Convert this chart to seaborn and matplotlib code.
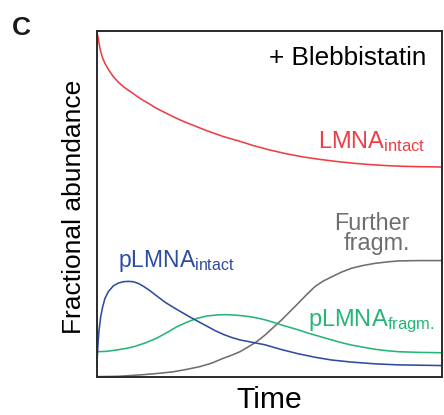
import matplotlib
matplotlib.use("Agg")
import matplotlib.pyplot as plt
import seaborn as sns
import pandas as pd

# ---- data (normalized time, fractional abundance) ----
red_t = [0.0, 0.001, 0.0038, 0.0067, 0.0116, 0.0174, 0.024, 0.0336, 0.0481, 0.0626,
         0.077, 0.1014, 0.1254, 0.1494, 0.1738, 0.1978, 0.2218, 0.246, 0.2702,
         0.3186, 0.3666, 0.415, 0.4535, 0.5019, 0.5502, 0.5985, 0.6467, 0.6949,
         0.7431, 0.7915, 0.8398, 0.888, 0.9363, 1.0]
red_v = [1.0, 0.992, 0.982, 0.963, 0.939, 0.920, 0.905, 0.888, 0.867, 0.851,
         0.838, 0.821, 0.804, 0.790, 0.775, 0.763, 0.751, 0.740, 0.730,
         0.711, 0.694, 0.680, 0.668, 0.655, 0.644, 0.635, 0.628, 0.622,
         0.617, 0.613, 0.610, 0.608, 0.607, 0.606]

blue_t = [0.0, 0.0009, 0.0017, 0.0038, 0.0067, 0.0116, 0.0174, 0.024, 0.0336, 0.0481,
          0.0626, 0.077, 0.0915, 0.106, 0.1205, 0.135, 0.1544, 0.1738, 0.1978,
          0.2218, 0.246, 0.2702, 0.2942, 0.3186, 0.3426, 0.3666, 0.391, 0.415,
          0.451, 0.4874, 0.5114, 0.5358, 0.5598, 0.5838, 0.6082, 0.6322, 0.6806,
          0.7385, 0.806, 0.8734, 0.936, 1.0]
blue_v = [0.001, 0.030, 0.058, 0.097, 0.135, 0.174, 0.203, 0.227, 0.246, 0.263,
          0.271, 0.275, 0.276, 0.275, 0.270, 0.262, 0.249, 0.234, 0.216,
          0.201, 0.187, 0.173, 0.160, 0.147, 0.134, 0.123, 0.114, 0.107,
          0.100, 0.093, 0.086, 0.079, 0.073, 0.067, 0.062, 0.057, 0.049,
          0.043, 0.038, 0.035, 0.034, 0.033]

green_t = [0.0, 0.029, 0.058, 0.082, 0.106, 0.14, 0.174, 0.203, 0.232, 0.261, 0.29,
           0.3186, 0.3475, 0.3716, 0.3956, 0.42, 0.444, 0.4657, 0.4874, 0.5114,
           0.5358, 0.56, 0.5838, 0.608, 0.6322, 0.656, 0.6806, 0.7095, 0.7385,
           0.772, 0.806, 0.84, 0.8734, 0.936, 1.0]
green_v = [0.073, 0.074, 0.078, 0.082, 0.087, 0.098, 0.112, 0.128, 0.145, 0.158, 0.169,
           0.176, 0.179, 0.180, 0.179, 0.177, 0.174, 0.170, 0.165, 0.158,
           0.150, 0.143, 0.136, 0.128, 0.121, 0.114, 0.107, 0.099, 0.092,
           0.086, 0.080, 0.076, 0.073, 0.071, 0.070]

grey_t = [0.0, 0.0626, 0.1254, 0.1738, 0.2218, 0.2606, 0.2992, 0.333, 0.3666, 0.391,
          0.415, 0.439, 0.4634, 0.4874, 0.5114, 0.5358, 0.5598, 0.5838, 0.6082,
          0.6322, 0.6562, 0.6806, 0.7095, 0.7385, 0.772, 0.806, 0.8398, 0.8734,
          0.936, 1.0]
grey_v = [0.001, 0.002, 0.006, 0.010, 0.015, 0.022, 0.030, 0.040, 0.054, 0.063,
          0.073, 0.087, 0.102, 0.121, 0.143, 0.165, 0.189, 0.213, 0.238,
          0.261, 0.277, 0.289, 0.303, 0.314, 0.322, 0.328, 0.332, 0.335,
          0.336, 0.336]

RED = "#EE3E45"
BLUE = "#2E4DA0"
GREEN = "#25B577"
GREY = "#6E6E6E"

sns.set_theme(style="white")
plt.rcParams["font.family"] = ["Liberation Sans", "DejaVu Sans"]
plt.rcParams["mathtext.fontset"] = "custom"
plt.rcParams["mathtext.rm"] = "Liberation Sans"
plt.rcParams["mathtext.it"] = "Liberation Sans"
plt.rcParams["mathtext.bf"] = "Liberation Sans:bold"

fig = plt.figure(figsize=(4.44, 4.15), dpi=100)
ax = fig.add_axes([96.7 / 444, 1 - 377 / 415, (442 - 96.7) / 444, (377 - 30.5) / 415])

lw = 1.15
for t, v, c in [(red_t, red_v, RED), (grey_t, grey_v, GREY),
                (green_t, green_v, GREEN), (blue_t, blue_v, BLUE)]:
    df = pd.DataFrame({"t": t, "v": v})
    sns.lineplot(data=df, x="t", y="v", color=c, linewidth=lw, ax=ax, sort=True)

ax.set_xlim(0, 1)
ax.set_ylim(0, 1)
ax.set_xticks([])
ax.set_yticks([])
for s in ax.spines.values():
    s.set_visible(True)
    s.set_color("#2a2a2a")
    s.set_linewidth(1.4)

ax.set_xlabel("Time", fontsize=21.7, color="black")
ax.xaxis.label.set_va("baseline")
ax.xaxis.set_label_coords(0.5, (377 - 408.3) / 346.5)
ax.set_ylabel("Fractional abundance", fontsize=19, color="black")
ax.yaxis.label.set_va("baseline")
ax.yaxis.set_label_coords((81 - 96.7) / 345.3, 0.492)

fs = 17
ax.text(0.498, 0.900, "+ Blebbistatin", fontsize=18.8, color="black",
        ha="left", va="baseline")
ax.text(0.6418, 0.660, r"LMNA$_{\mathrm{intact}}$", fontsize=fs, color=RED,
        ha="left", va="baseline")
ax.text(0.907, 0.3665, "Further\nfragm.", fontsize=16.8, color=GREY,
        ha="right", va="baseline", multialignment="right", linespacing=0.84)
ax.text(0.0626, 0.3183, r"pLMNA$_{\mathrm{intact}}$", fontsize=16.5, color=BLUE,
        ha="left", va="baseline")
ax.text(0.6128, 0.1472, r"pLMNA$_{\mathrm{fragm.}}$", fontsize=fs, color=GREEN,
        ha="left", va="baseline")

fig.text(12 / 444, 1 - 35 / 415, "C", fontsize=19, fontweight="bold",
         color="#1a1a1a", ha="left", va="baseline")

fig.savefig("out.png", dpi=100)
